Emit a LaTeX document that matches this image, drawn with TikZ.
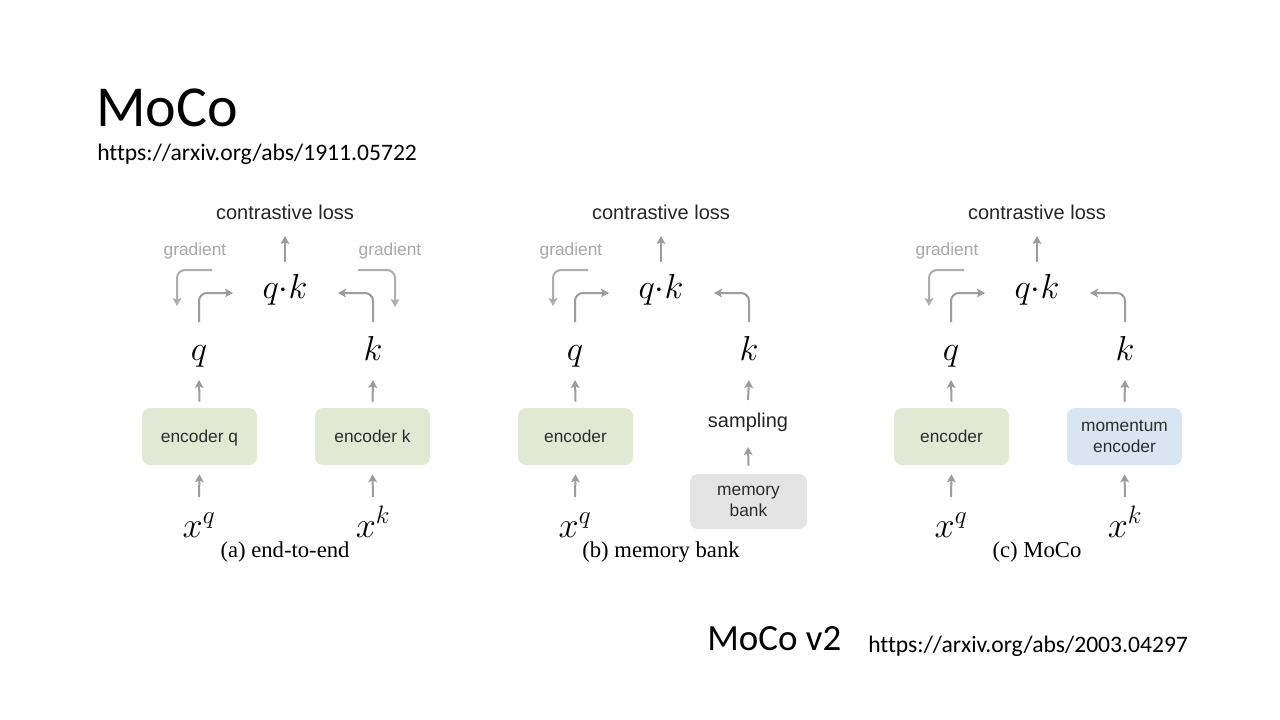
\RequirePackage{fix-cm}
\documentclass[tikz,border=0pt]{standalone}
\usepackage{fontspec}
\setmainfont{Liberation Serif}
\newfontfamily\arialf{Liberation Sans}
\newfontfamily\calibrif[Ligatures=NoCommon]{Carlito}
\usetikzlibrary{arrows.meta,calc}
\definecolor{arrowgray}{HTML}{9C9C9C}
\definecolor{gradtext}{HTML}{A8A8A8}
\definecolor{gradarrow}{HTML}{ADADAD}
\definecolor{greenbox}{HTML}{E1E9D5}
\definecolor{bluebox}{HTML}{D9E6F1}
\definecolor{graybox}{HTML}{E4E4E4}
\definecolor{boxtext}{HTML}{2E2E2E}
\tikzset{
  fwd/.style={draw=arrowgray, line width=1.5pt, rounded corners=6pt,
    -{Stealth[length=6pt,width=6.5pt,inset=1.3pt]}},
  gradarr/.style={draw=gradarrow, line width=1.5pt, rounded corners=6pt,
    -{Stealth[length=6pt,width=6.5pt,inset=1.3pt]}},
  lossT/.style={font=\arialf\fontsize{15}{18}\selectfont, text=black!85, inner sep=0pt},
  gradT/.style={font=\arialf\fontsize{13}{15}\selectfont, text=gradtext, inner sep=0pt},
  mathT/.style={font=\fontsize{26}{30}\selectfont, inner sep=0pt, anchor=base},
  xT/.style={font=\fontsize{27}{30}\selectfont, inner sep=0pt, anchor=base},
  capT/.style={font=\fontsize{17}{20}\selectfont, inner sep=0pt},
  boxT/.style={font=\arialf\fontsize{13}{15.5}\selectfont, text=boxtext, align=center,
    rounded corners=6pt, minimum width=86.25pt, minimum height=42.75pt, inner sep=0pt},
}
\newcommand\toppart[1]{%
  \node[lossT] (loss#1) at (285,212) {contrastive loss};
  \node[mathT] (qk#1) at (285,298) {$q{\cdot}k$};
  \draw[fwd] ($(qk#1.base)+(0,-36)$) -- ($(loss#1)+(0,24)$);
  \node[gradT] (gl#1) at (195,251) {gradient};
  \draw[gradarr] ($(gl#1)+(17,19)$) -| ($(gl#1)+(-18,55)$);
  \node[mathT] (q#1) at (199,360) {$q$};
  \draw[fwd] ($(q#1.base)+(0,-38)$) |- ($(qk#1.base)+(-52,-5)$);
  \node[mathT] (k#1) at (373,360) {$k$};
  \draw[fwd] ($(k#1.base)+(0,-38)$) |- ($(qk#1.base)+(53,-5)$);
  \node[xT] (xq#1) at (199,537) {$x^q$};
}
\begin{document}
\begin{tikzpicture}[x=0.75pt,y=-0.75pt]
\useasboundingbox[fill=white] (0,0) rectangle (1280,720);

% titles
\node[anchor=base west, inner sep=0pt, font=\calibrif\fontsize{43.5}{50}\selectfont] (title) at (96,127) {MoCo};
\node[anchor=base west, inner sep=0pt, font=\calibrif\fontsize{17.7}{21}\selectfont] (url1) at (97,161) {https://arxiv.org/abs/1911.05722};
\node[anchor=base west, inner sep=0pt, font=\calibrif\fontsize{27.7}{32}\selectfont] (title2) at (707,650) {MoCo v2};
\node[anchor=base west, inner sep=0pt, font=\calibrif\fontsize{17.7}{21}\selectfont] (url2) at (868,652) {https://arxiv.org/abs/2003.04297};

% ---------- panel (a) ----------
\begin{scope}
  \toppart{a}
  \node[gradT] (gra) at (390,251) {gradient};
  \draw[gradarr] ($(gra)+(-32,19)$) -| ($(gra)+(5,56)$);
  \node[boxT, fill=greenbox] (encqa) at (199.5,436.5) {encoder \smash{q}};
  \node[boxT, fill=greenbox] (encka) at (372.5,436.5) {encoder k};
  \draw[fwd] ($(encqa.north)+(0,-6)$) -- ($(qa.base)+(0,20)$);
  \draw[fwd] ($(encka.north)+(0,-6)$) -- ($(ka.base)+(0,20)$);
  \draw[fwd] ($(xqa.base)+(0,-40)$) -- ($(encqa.south)+(0,9)$);
  \node[xT] (xka) at (373,537) {$x^k$};
  \draw[fwd] ($(xka.base)+(0,-40)$) -- ($(encka.south)+(0,9)$);
  \node[capT] (capa) at (285,552) {(a) end-to-end};
\end{scope}

% ---------- panel (b) ----------
\begin{scope}[shift={(376,0)}]
  \toppart{b}
  \node[boxT, fill=greenbox] (encb) at (199.5,436.5) {encoder};
  \draw[fwd] ($(encb.north)+(0,-6)$) -- ($(qb.base)+(0,20)$);
  \draw[fwd] ($(xqb.base)+(0,-40)$) -- ($(encb.south)+(0,9)$);
  \node[lossT] (sampb) at (372,422) {sampling};
  \draw[fwd] ($(sampb)+(0,-22)$) -- ($(kb.base)+(0,20)$);
  \node[boxT, fill=graybox, minimum width=87.75pt, minimum height=41.25pt] (memb) at (372.5,501.5) {memory\\bank};
  \draw[fwd] ($(memb.north)+(0,-8)$) -- ($(sampb)+(0,25)$);
  \node[capT] (capb) at (285,552) {(b) memory bank};
\end{scope}

% ---------- panel (c) ----------
\begin{scope}[shift={(752,0)}]
  \toppart{c}
  \node[boxT, fill=greenbox] (encc) at (199.5,436.5) {encoder};
  \node[boxT, fill=bluebox] (menc) at (372.5,436.5) {momentum\\encoder};
  \draw[fwd] ($(encc.north)+(0,-6)$) -- ($(qc.base)+(0,20)$);
  \draw[fwd] ($(menc.north)+(0,-6)$) -- ($(kc.base)+(0,20)$);
  \draw[fwd] ($(xqc.base)+(0,-40)$) -- ($(encc.south)+(0,9)$);
  \node[xT] (xkc) at (373,537) {$x^k$};
  \draw[fwd] ($(xkc.base)+(0,-40)$) -- ($(menc.south)+(0,9)$);
  \node[capT] (capc) at (285,552) {(c) MoCo};
\end{scope}
\end{tikzpicture}
\end{document}
